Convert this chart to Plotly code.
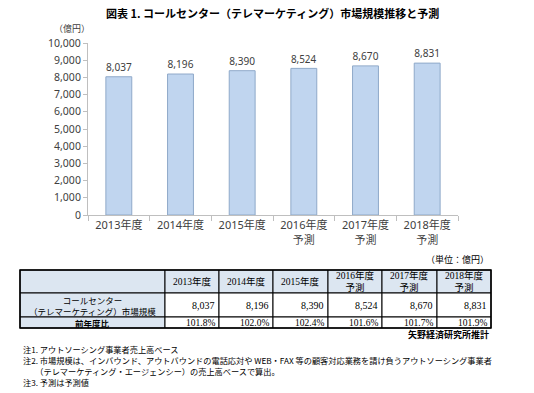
import plotly.graph_objects as go

# ---- data ----
years = ["2013年度", "2014年度", "2015年度", "2016年度<br>予測", "2017年度<br>予測", "2018年度<br>予測"]
market = [8037, 8196, 8390, 8524, 8670, 8831]
yoy = [101.8, 102.0, 102.4, 101.6, 101.7, 101.9]
y_ticks = list(range(0, 10001, 1000))
row_labels = ["コールセンター<br>（テレマーケティング）市場規模", "<b>前年度比</b>"]
title_text = "図表 1. コールセンター（テレマーケティング）市場規模推移と予測"
unit_text = "（単位：億円）"
source_text = "矢野経済研究所推計"
notes = [
    "注1. アウトソーシング事業者売上高ベース",
    "注2. 市場規模は、インバウンド、アウトバウンドの電話応対や WEB・FAX 等の顧客対応業務を請け負うアウトソーシング事業者",
    "　　（テレマーケティング・エージェンシー）の売上高ベースで算出。",
    "注3. 予測は予測値",
]

# ---- layout constants (pixels) ----
W, H = 534, 393
def px(x): return x / W
def py(y): return 1 - y / H

SANS = "Noto Sans, Noto Sans CJK JP, sans-serif"
SERIF = "Liberation Serif, Noto Sans CJK JP, serif"
CJK = "Noto Sans CJK JP, sans-serif"

TABLE_LEFT = 20
COL_W = [145, 54, 54, 55, 54, 55, 54]
TABLE_TOP = 270
ROW_H = [23, 24, 11]
ROW_FONT = [9.5, 10, 9.5]
HEAD_FILL = "#dce6f1"

fig = go.Figure()
fig.add_trace(go.Bar(
    x=years, y=market,
    marker=dict(color="#c0d5ef", line=dict(color="#8fa9c9", width=1)),
    text=[f"{v:,}" for v in market], textposition="outside",
    textfont=dict(size=11, color="#404040", family=SANS),
    cliponaxis=False, width=0.42, hoverinfo="skip",
))

shapes = []
annotations = []

def ann(text, x, y, xanchor="center", font=None):
    return dict(text=text, x=px(x), y=py(y), xref="paper", yref="paper",
                xanchor=xanchor, yanchor="middle", showarrow=False,
                font=font, align="center" if xanchor == "center" else xanchor)

# ---- table built from data arrays ----
col_x = [TABLE_LEFT]
for w in COL_W:
    col_x.append(col_x[-1] + w)
row_y = [TABLE_TOP]
for h in ROW_H:
    row_y.append(row_y[-1] + h)

table_rows = [
    [""] + years,
    [row_labels[0]] + [f"{m:,}" for m in market],
    [row_labels[1]] + [f"{r:.1f}%" for r in yoy],
]
for ri, row in enumerate(table_rows):
    y0, y1 = row_y[ri], row_y[ri + 1]
    for ci, val in enumerate(row):
        x0, x1 = col_x[ci], col_x[ci + 1]
        fill = HEAD_FILL if (ri == 0 or ci == 0) else "white"
        shapes.append(dict(type="rect", xref="paper", yref="paper",
                           x0=px(x0), x1=px(x1), y0=py(y1), y1=py(y0),
                           fillcolor=fill, line=dict(color="black", width=1), layer="below"))
        if not val:
            continue
        if ri == 0 or ci == 0:
            ax, xa = (x0 + x1) / 2, "center"
        else:
            ax, xa = x1 - 2, "right"
        if ci == 0:
            fnt = dict(family=CJK, size=8.5, color="black")
        else:
            fnt = dict(family=SERIF, size=ROW_FONT[ri], color="black")
        annotations.append(ann(val, ax, (y0 + y1) / 2, xa, fnt))
# thicker outer border
shapes.append(dict(type="rect", xref="paper", yref="paper",
                   x0=px(col_x[0]), x1=px(col_x[-1]), y0=py(row_y[-1]), y1=py(row_y[0]),
                   line=dict(color="black", width=1.5)))

annotations += [
    ann(f"<b>{title_text}</b>", 272, 13, "center", dict(family=CJK, size=11, color="black")),
    ann("（億円）", 72, 29, "center", dict(family=CJK, size=9, color="#404040")),
    ann(unit_text, 491, 259, "right", dict(family=CJK, size=9, color="black")),
    ann(f"<b>{source_text}</b>", 491, 334, "right", dict(family=CJK, size=9, color="black")),
]
for t, yy in zip(notes, [349, 360, 371, 382]):
    annotations.append(ann(t, 21, yy, "left", dict(family=CJK, size=8.2, color="black")))

fig.update_layout(
    template="none",
    width=W, height=H, margin=dict(l=0, r=0, t=0, b=0, pad=0),
    paper_bgcolor="white", plot_bgcolor="white", showlegend=False,
    annotations=annotations, shapes=shapes,
    xaxis=dict(domain=[px(88), px(458)], showline=True, linecolor="#bfbfbf",
               ticks="outside", tickson="boundaries", ticklen=5, tickcolor="#bfbfbf",
               tickfont=dict(family=SANS, size=11, color="#404040"), showgrid=False,
               automargin=False, zeroline=False),
    yaxis=dict(domain=[py(215), py(43)], range=[0, 10000], tickvals=y_ticks, tickformat=",",
               showline=True, linecolor="#bfbfbf", ticks="outside", ticklen=4,
               tickcolor="#bfbfbf", showgrid=False, zeroline=False, automargin=False,
               tickfont=dict(family=SANS, size=10.5, color="#404040")),
)

fig.write_html("out.html", config={"displayModeBar": False},
               post_script="document.body.style.margin='0';document.body.style.overflow='hidden';")
